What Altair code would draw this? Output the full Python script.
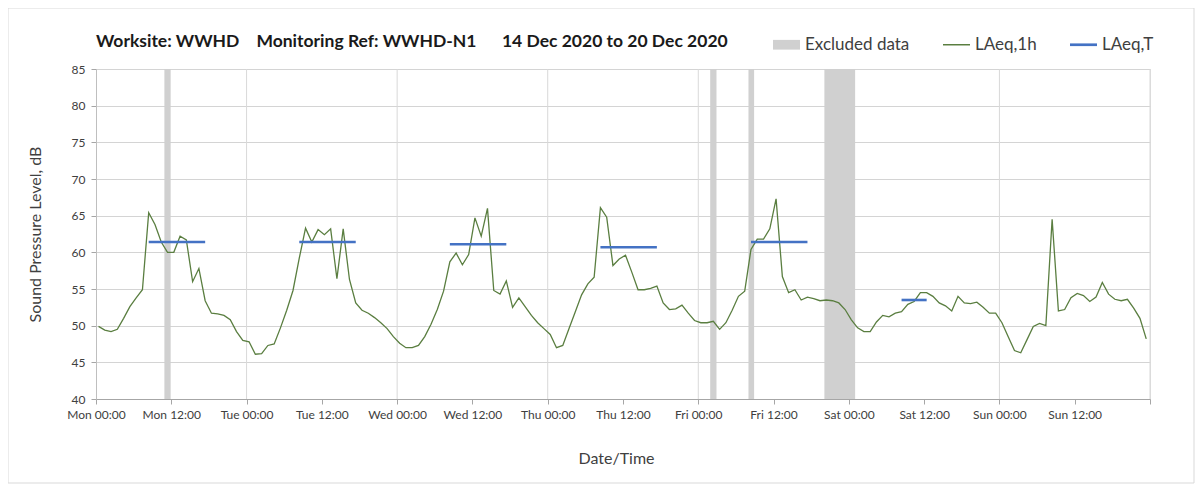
import altair as alt
import pandas as pd

# ---------------- data ----------------
HOUR_OFFSET = 0.4  # points sit slightly after the hour mark
laeq_1h = [
    # Mon
    49.9, 49.4, 49.2, 49.5, 51.0, 52.6, 53.8, 54.9, 65.4, 63.8, 61.4, 60.0,
    60.0, 62.2, 61.7, 56.0, 57.8, 53.4, 51.7, 51.6, 51.4, 50.8, 49.2, 48.0,
    # Tue
    47.8, 46.1, 46.2, 47.3, 47.5, 49.7, 52.1, 54.8, 59.2, 63.3, 61.4, 63.1,
    62.4, 63.2, 56.4, 63.2, 56.3, 53.1, 52.1, 51.7, 51.1, 50.4, 49.6, 48.5,
    # Wed
    47.6, 47.0, 47.0, 47.3, 48.5, 50.2, 52.2, 54.7, 58.7, 59.9, 58.3, 59.7,
    64.7, 62.2, 66.0, 54.8, 54.3, 56.1, 52.5, 53.8, 52.6, 51.4, 50.4, 49.6,
    # Thu
    48.8, 47.0, 47.3, 49.6, 51.9, 54.2, 55.7, 56.6, 66.1, 64.8, 58.2, 59.1,
    59.6, 57.3, 54.9, 54.9, 55.1, 55.4, 53.1, 52.2, 52.3, 52.8, 51.7, 50.7,
    # Fri
    50.4, 50.4, 50.6, 49.5, 50.4, 52.1, 54.0, 54.7, 60.4, 61.8, 61.8, 63.2,
    67.3, 56.7, 54.5, 54.9, 53.5, 53.9, 53.7, 53.4, 53.5, 53.4, 53.1, 52.2,
    # Sat
    50.8, 49.7, 49.2, 49.2, 50.5, 51.4, 51.2, 51.7, 51.9, 52.9, 53.3, 54.5,
    54.5, 54.0, 53.1, 52.7, 52.0, 54.0, 53.1, 53.0, 53.2, 52.5, 51.7, 51.7,
    # Sun
    50.4, 48.5, 46.6, 46.3, 48.1, 49.9, 50.3, 50.0, 64.5, 52.0, 52.2, 53.8,
    54.4, 54.1, 53.3, 53.9, 55.9, 54.3, 53.6, 53.4, 53.6, 52.4, 51.0, 48.2,
]
hours = list(range(len(laeq_1h)))

excl_start = [10.9, 97.9, 104.0, 116.1]
excl_end = [11.9, 98.9, 104.9, 121.0]

seg_start = [8, 32, 56, 80, 104, 128]
seg_end = [17, 41, 65, 89, 113, 132]
laeq_T = [61.4, 61.4, 61.1, 60.7, 61.4, 53.5]

tick_hours = [0, 12, 24, 36, 48, 60, 72, 84, 96, 108, 120, 132, 144, 156, 168]
day_bounds = [24, 48, 72, 96, 120, 144, 168]
day_names = ["Mon", "Tue", "Wed", "Thu", "Fri", "Sat", "Sun"]
y_ticks = [40, 45, 50, 55, 60, 65, 70, 75, 80, 85]

series_names = ["Excluded data", "LAeq,1h", "LAeq,T"]
series_colors = ["#d0d0d0", "#5a7e40", "#4472c4"]

title_text = ("Worksite: WWHD\u00a0\u00a0\u00a0\u00a0Monitoring Ref: WWHD-N1"
              "\u00a0\u00a0\u00a0\u00a0\u00a0\u00a014 Dec 2020 to 20 Dec 2020")

# ---------------- tables ----------------
line_df = pd.DataFrame({"t": [h + HOUR_OFFSET for h in hours], "v": laeq_1h})
band_df = pd.DataFrame({"start": excl_start, "end": excl_end})
seg_rows = []
for i, (s, e, v) in enumerate(zip(seg_start, seg_end, laeq_T)):
    seg_rows.append({"seg": i, "t": s + HOUR_OFFSET, "v": v})
    seg_rows.append({"seg": i, "t": e + HOUR_OFFSET, "v": v})
seg_df = pd.DataFrame(seg_rows)
grid_df = pd.DataFrame({"t": day_bounds})
legend_df = pd.DataFrame({"series": series_names, "t": [0, 0, 0], "v": [0, 0, 0]})
single_df = pd.DataFrame({"title": [title_text]})

FONT = "Lato"
W, H = 1054, 330

names_js = "[" + ",".join("'%s'" % d for d in day_names) + "]"
label_expr = ("datum.value >= 168 ? '' : " + names_js +
              "[floor(datum.value / 24)] + (datum.value % 24 == 0 ? ' 00:00' : ' 12:00')")

XS = alt.Scale(domain=[0, 168], nice=False, zero=False)
YS = alt.Scale(domain=[40, 85], nice=False, zero=False)

X_AXIS = alt.Axis(values=tick_hours, labelExpr=label_expr, grid=False,
                  tickSize=5, tickColor="#a6a6a6", domainColor="#a6a6a6",
                  labelFont=FONT, labelFontSize=12, labelColor="#404040",
                  labelPadding=5, labelOverlap=False, labelFlush=False,
                  titleFont=FONT, titleFontSize=16, titleFontWeight="normal",
                  titleColor="#404040", titleX=520, titleY=59,
                  titleBaseline="middle")
Y_AXIS = alt.Axis(values=y_ticks, grid=True, gridColor="#d4d4d4", gridWidth=1,
                  tickSize=5, tickColor="#a6a6a6", domainColor="#bfbfbf",
                  labelFont=FONT, labelFontSize=12, labelColor="#404040",
                  labelPadding=6, titleFont=FONT, titleFontSize=16,
                  titleFontWeight="normal", titleColor="#404040",
                  titleAngle=-90, titleX=-61, titleY=H / 2,
                  titleAlign="center", titleBaseline="middle")


def xenc(field):
    return alt.X(field, type="quantitative", scale=XS, axis=X_AXIS, title="Date/Time")


def yenc(field):
    return alt.Y(field, type="quantitative", scale=YS, axis=Y_AXIS,
                 title="Sound Pressure Level, dB")


grid_layer = alt.Chart(grid_df).mark_rule(color="#d9d9d9", strokeWidth=1).encode(
    x=xenc("t")
)

band_layer = alt.Chart(band_df).mark_rect(color=series_colors[0], opacity=1).encode(
    x=xenc("start"), x2="end"
)

line_layer = alt.Chart(line_df).mark_line(color=series_colors[1], strokeWidth=1.3).encode(
    x=xenc("t"), y=yenc("v")
)

seg_layer = alt.Chart(seg_df).mark_line(color=series_colors[2], strokeWidth=2.6).encode(
    x=xenc("t"), y=yenc("v"), detail="seg:N"
)

LEG = dict(title=None, orient="none", direction="horizontal",
           legendX=677, legendY=-38, columnPadding=33,
           symbolSize=729, symbolStrokeWidth=0, symbolOpacity=1,
           labelFont=FONT, labelFontSize=17, labelColor="#404040",
           labelOffset=5)

legend_layer = alt.Chart(legend_df).mark_point(filled=True, clip=True, opacity=1).encode(
    x=xenc("t"), y=yenc("v"),
    color=alt.Color("series:N", scale=alt.Scale(domain=series_names, range=series_colors),
                    legend=alt.Legend(**LEG)),
    shape=alt.Shape("series:N", scale=alt.Scale(
        domain=series_names,
        range=["M-1,-0.36H1V0.36H-1Z", "M-1,-0.055H1V0.055H-1Z", "M-1,-0.1H1V0.1H-1Z"]),
        legend=alt.Legend(**LEG)),
)

title_layer = alt.Chart(single_df).mark_text(
    align="left", baseline="middle", font=FONT, fontSize=17.5, fontWeight="bold",
    color="#1a1a1a"
).encode(x=alt.value(0), y=alt.value(-27), text="title:N")

frame_layer = alt.Chart(single_df).mark_rect(fillOpacity=0, stroke="#d9d9d9", strokeWidth=1).encode(
    x=alt.value(-88), x2=alt.value(W + 44), y=alt.value(-61), y2=alt.value(H + 84)
)

chart = alt.layer(
    grid_layer, band_layer, line_layer, seg_layer, legend_layer, title_layer, frame_layer
).properties(
    width=W, height=H,
    padding={"left": 88, "top": 61, "right": 45, "bottom": 85},
    autosize=alt.AutoSizeParams(type="none"),
).configure_view(stroke=None).configure(background="white")

chart.save("out.html", embed_options={"renderer": "svg", "actions": False})
